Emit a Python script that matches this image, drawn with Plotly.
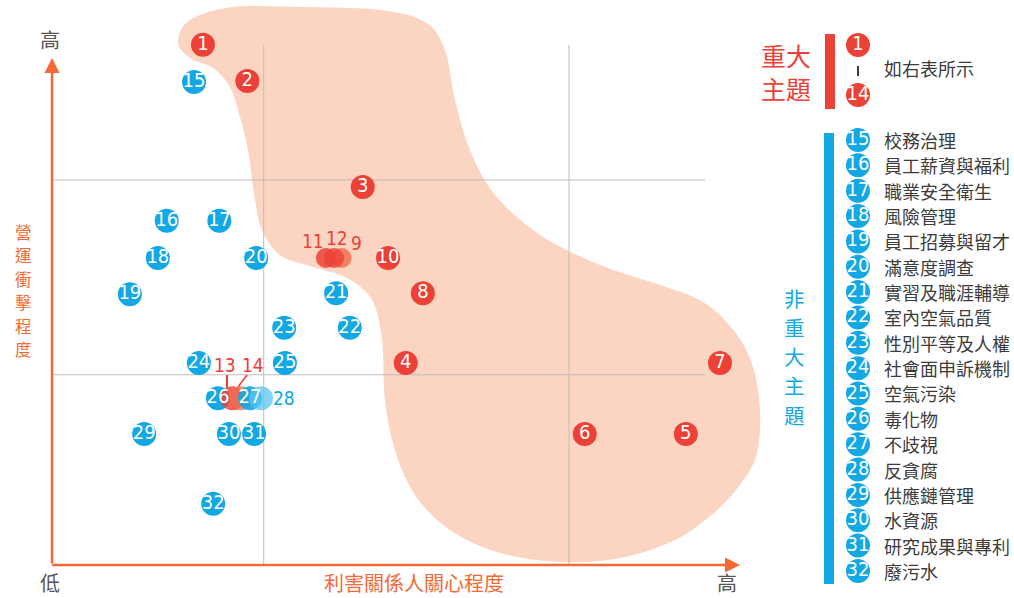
import plotly.graph_objects as go

# ---------------- data ----------------
# Material topics (1-14): stakeholder concern (x) vs operational impact (y), 0-100 scale
material_ids = ["1", "2", "3", "4", "5", "6", "7", "8", "9", "10", "11", "12", "13", "14"]
material_x = [22.1, 28.6, 45.5, 51.8, 92.8, 78.0, 97.8, 54.3, 42.4, 49.2, 40.1, 41.3, 26.4, 27.6]
material_y = [102.0, 94.9, 74.1, 39.6, 25.7, 25.7, 39.6, 53.3, 60.2, 60.2, 60.2, 60.2, 32.7, 32.7]

# Non-material topics (15-32)
other_ids = ["15", "16", "17", "18", "19", "20", "21", "22", "23",
             "24", "25", "26", "27", "28", "29", "30", "31", "32"]
other_names = ["校務治理", "員工薪資與福利", "職業安全衛生", "風險管理", "員工招募與留才",
               "滿意度調查", "實習及職涯輔導", "室內空氣品質", "性別平等及人權",
               "社會面申訴機制", "空氣污染", "毒化物", "不歧視", "反貪腐",
               "供應鏈管理", "水資源", "研究成果與專利", "廢污水"]
other_x = [20.8, 16.8, 24.5, 15.5, 11.4, 29.9, 41.6, 43.6, 34.0,
           21.5, 34.1, 24.3, 29.0, 30.6, 13.5, 25.9, 29.6, 23.6]
other_y = [94.7, 67.5, 67.5, 60.2, 53.1, 60.2, 53.3, 46.5, 46.5,
           39.6, 39.6, 32.7, 32.7, 32.7, 25.7, 25.7, 25.7, 12.0]

grid_x = [31.0, 75.7]
grid_y = [37.3, 75.5]

axis_x_label = "利害關係人關心程度"
axis_y_label = "營運衝擊程度"
low_label, high_label = "低", "高"
material_title = "重大主題"
other_title = "非重大主題"
material_note = "如右表所示"

# ---------------- layout / style ----------------
W, H = 1014, 598
X0, Y0, SX, SY = 52, 565, 6.83, 5.10   # pixel origin and pixels per unit


def fx(px):
    return (px - X0) / SX


def fy(py):
    return (Y0 - py) / SY


def pp(px, py):
    return px / W, 1 - py / H


RED = "#EB4136"
ORANGE_RED = "#F06A4C"
BLUE = "#12A8E3"
LIGHT_BLUE = "#57C6F0"
ORANGE = "#F26A36"
BLOB = "#FBD4C2"
GRID = "#BDBDBD"
GRAY_TXT = "#3C3C3C"
CJK = "Noto Sans CJK TC, Noto Sans CJK SC, sans-serif"
NUM = "Liberation Sans Narrow, DejaVu Sans Condensed, Arial Narrow, Roboto, sans-serif"

fig = go.Figure()

# blob outline (pixel positions -> data units), smooth closed curve
blob_px = [(178, 42), (190, 20), (233, 7), (300, 7), (380, 10), (425, 22), (445, 50), (455, 100),
           (470, 150), (495, 195), (540, 235), (600, 265), (660, 285), (703, 302), (735, 332),
           (753, 367), (760, 410), (757, 453), (742, 482), (715, 512), (675, 540), (620, 558),
           (560, 562), (500, 553), (450, 530), (415, 495), (395, 450), (385, 400), (382, 340),
           (372, 300), (347, 278), (313, 267), (280, 255), (262, 230), (255, 200), (248, 150),
           (240, 117), (230, 87), (213, 68), (190, 58)]
bx = [fx(p[0]) for p in blob_px]
by = [fy(p[1]) for p in blob_px]
n = len(bx)
path = [f"M {bx[0]:.3f},{by[0]:.3f}"]
for i in range(n):
    p0 = (bx[i - 1], by[i - 1]); p1 = (bx[i], by[i])
    p2 = (bx[(i + 1) % n], by[(i + 1) % n]); p3 = (bx[(i + 2) % n], by[(i + 2) % n])
    c1 = (p1[0] + (p2[0] - p0[0]) / 6, p1[1] + (p2[1] - p0[1]) / 6)
    c2 = (p2[0] - (p3[0] - p1[0]) / 6, p2[1] - (p3[1] - p1[1]) / 6)
    path.append(f"C {c1[0]:.3f},{c1[1]:.3f} {c2[0]:.3f},{c2[1]:.3f} {p2[0]:.3f},{p2[1]:.3f}")
path.append("Z")

shapes = [dict(type="path", path=" ".join(path), xref="x", yref="y",
               fillcolor=BLOB, line=dict(width=0), layer="below")]
for gx in grid_x:
    shapes.append(dict(type="line", xref="x", yref="y", x0=gx, x1=gx, y0=0, y1=fy(45),
                       line=dict(color=GRID, width=1), layer="below"))
for gy in grid_y:
    shapes.append(dict(type="line", xref="x", yref="y", x0=0, x1=fx(705), y0=gy, y1=gy,
                       line=dict(color=GRID, width=1), layer="below"))

# axis arrows
annotations = []
annotations.append(dict(x=0, y=fy(58), ax=0, ay=0, xref="x", yref="y", axref="x", ayref="y",
                        text="", showarrow=True, arrowhead=2, arrowsize=1.2, arrowwidth=2.5,
                        arrowcolor=ORANGE, standoff=0, startstandoff=0))
annotations.append(dict(x=fx(740), y=0, ax=-0.2, ay=0, xref="x", yref="y", axref="x", ayref="y",
                        text="", showarrow=True, arrowhead=2, arrowsize=1.2, arrowwidth=2.5,
                        arrowcolor=ORANGE, standoff=0, startstandoff=0))

# main points: blue (excluding 27, 28), red, then 27, 28
outside = {"9": (15, -15), "11": (-13, -17), "12": (3, -20), "13": (-7, -33), "14": (12, -33),
           "28": (23, 0)}

late_blue = ["27", "28"]
b_idx = [i for i, k in enumerate(other_ids) if k not in late_blue]
fig.add_trace(go.Scatter(
    x=[other_x[i] for i in b_idx], y=[other_y[i] for i in b_idx], mode="markers+text",
    marker=dict(size=24, color=BLUE, line=dict(width=0)),
    text=["" if other_ids[i] == "26" else other_ids[i] for i in b_idx], textposition="middle center",
    textfont=dict(family=NUM, size=20, color="white"), hoverinfo="skip", cliponaxis=False))

red_colors = [RED] * len(material_ids)
red_op = [1.0] * len(material_ids)
for k, c, o in [("9", ORANGE_RED, 0.8), ("11", RED, 0.85), ("12", RED, 0.8),
                ("13", RED, 0.8), ("14", ORANGE_RED, 0.75)]:
    j = material_ids.index(k)
    red_colors[j] = c
    red_op[j] = o
fig.add_trace(go.Scatter(
    x=material_x, y=material_y, mode="markers+text",
    marker=dict(size=[20 if k in ("9", "11", "12") else 24 for k in material_ids],
                color=red_colors, opacity=red_op, line=dict(width=0)),
    text=["" if k in outside else k for k in material_ids], textposition="middle center",
    textfont=dict(family=NUM, size=20, color="white"), hoverinfo="skip", cliponaxis=False))

l_idx = [other_ids.index(k) for k in late_blue]
fig.add_trace(go.Scatter(
    x=[other_x[i] for i in l_idx], y=[other_y[i] for i in l_idx], mode="markers",
    marker=dict(size=24, color=[BLUE, LIGHT_BLUE], opacity=[0.9, 0.75], line=dict(width=0)),
    hoverinfo="skip", cliponaxis=False))

# numbers of the overlapped circles drawn on top
top_ids = ["26", "27"]
t_idx = [other_ids.index(k) for k in top_ids]
fig.add_trace(go.Scatter(
    x=[other_x[i] for i in t_idx], y=[other_y[i] for i in t_idx], mode="text",
    text=top_ids, textposition="middle center",
    textfont=dict(family=NUM, size=20, color="white"), hoverinfo="skip", cliponaxis=False))

# outside labels
for k, (dx, dy) in outside.items():
    if k in material_ids:
        j = material_ids.index(k)
        x, y, col = material_x[j], material_y[j], RED
    else:
        j = other_ids.index(k)
        x, y, col = other_x[j], other_y[j], BLUE
    annotations.append(dict(x=x + dx / SX, y=y - dy / SY, xref="x", yref="y", text=k,
                            showarrow=False, font=dict(family=NUM, size=19, color=col),
                            xanchor="center", yanchor="middle"))

# leader lines for 13 and 14
shapes.append(dict(type="line", xref="x", yref="y", x0=fx(227), x1=fx(227), y0=fy(375), y1=fy(388),
                   line=dict(color=RED, width=2)))
shapes.append(dict(type="line", xref="x", yref="y", x0=fx(247), x1=fx(238), y0=fy(375), y1=fy(387),
                   line=dict(color=RED, width=1.5)))

# axis texts
for txt, (px, py) in [(high_label, (50, 40)), (low_label, (50, 582)), (high_label, (727, 582))]:
    x, y = pp(px, py)
    annotations.append(dict(x=x, y=y, xref="paper", yref="paper", text=txt, showarrow=False,
                            font=dict(family=CJK, size=20, color="#555555"),
                            xanchor="center", yanchor="middle"))
x, y = pp(414, 582)
annotations.append(dict(x=x, y=y, xref="paper", yref="paper", text=axis_x_label, showarrow=False,
                        font=dict(family=CJK, size=20, color=ORANGE), xanchor="center", yanchor="middle"))
for i, ch in enumerate(axis_y_label):
    x, y = pp(23, 232 + i * 23.4)
    annotations.append(dict(x=x, y=y, xref="paper", yref="paper", text=ch, showarrow=False,
                            font=dict(family=CJK, size=16.5, color=ORANGE),
                            xanchor="center", yanchor="middle"))

# legend: material
shapes.append(dict(type="rect", xref="paper", yref="paper", x0=825 / W, x1=835 / W,
                   y0=1 - 109 / H, y1=1 - 34 / H, fillcolor=RED, line=dict(width=0)))
x, y = pp(786, 71)
annotations.append(dict(x=x, y=y, xref="paper", yref="paper",
                        text=material_title[:2] + "<br>" + material_title[2:], showarrow=False,
                        font=dict(family=CJK, size=25, color=RED), xanchor="center", yanchor="middle"))
fig.add_trace(go.Scatter(
    x=[fx(858), fx(858)], y=[fy(45), fy(95)], mode="markers+text",
    marker=dict(size=24, color=RED, line=dict(width=0)),
    text=[material_ids[0], material_ids[-1]], textposition="middle center",
    textfont=dict(family=NUM, size=20, color="white"), hoverinfo="skip", cliponaxis=False))
shapes.append(dict(type="line", xref="paper", yref="paper", x0=858 / W, x1=858 / W,
                   y0=1 - 76 / H, y1=1 - 66 / H, line=dict(color=GRAY_TXT, width=2)))
x, y = pp(882, 68)
annotations.append(dict(x=x, y=y, xref="paper", yref="paper", text=material_note, showarrow=False,
                        font=dict(family=CJK, size=18, color=GRAY_TXT), xanchor="left", yanchor="middle"))

# legend: non-material
shapes.append(dict(type="rect", xref="paper", yref="paper", x0=824 / W, x1=834 / W,
                   y0=1 - 584 / H, y1=1 - 133 / H, fillcolor=BLUE, line=dict(width=0)))
for i, ch in enumerate(other_title):
    x, y = pp(794, 297.5 + i * 29.3)
    annotations.append(dict(x=x, y=y, xref="paper", yref="paper", text=ch, showarrow=False,
                            font=dict(family=CJK, size=20.5, color=BLUE),
                            xanchor="center", yanchor="middle"))
row_y = [140 + 25.35 * i for i in range(len(other_ids))]
fig.add_trace(go.Scatter(
    x=[fx(858)] * len(other_ids), y=[fy(r) for r in row_y], mode="markers+text",
    marker=dict(size=24, color=BLUE, line=dict(width=0)),
    text=other_ids, textposition="middle center",
    textfont=dict(family=NUM, size=20, color="white"), hoverinfo="skip", cliponaxis=False))
for name, r in zip(other_names, row_y):
    x, y = pp(882, r)
    annotations.append(dict(x=x, y=y, xref="paper", yref="paper", text=name, showarrow=False,
                            font=dict(family=CJK, size=18, color=GRAY_TXT), xanchor="left", yanchor="middle"))

fig.update_layout(
    width=W, height=H, margin=dict(l=0, r=0, t=0, b=0),
    paper_bgcolor="white", plot_bgcolor="white", showlegend=False, hovermode=False,
    xaxis=dict(range=[fx(0), fx(W)], visible=False, fixedrange=True),
    yaxis=dict(range=[fy(H), fy(0)], visible=False, fixedrange=True),
    shapes=shapes, annotations=annotations,
)

fig.write_html("out.html", config={"displayModeBar": False},
               post_script="document.body.style.margin='0px';document.body.style.overflow='hidden';")
